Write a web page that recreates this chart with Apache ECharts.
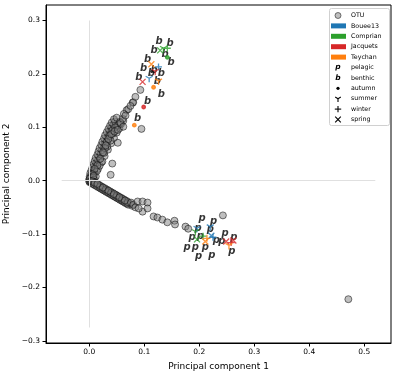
<!DOCTYPE html>
<html>
<head>
<meta charset="utf-8">
<script src="https://cdn.jsdelivr.net/npm/echarts@6/dist/echarts.min.js"></script>
<style>
  html, body { margin: 0; padding: 0; background: #fff; }
  #chart { width: 399px; height: 377px; }
</style>
</head>
<body>
<div id="chart"></div>
<script>
// tick labels
var xTicks = [0.0, 0.1, 0.2, 0.3, 0.4, 0.5];
var yTicks = [-0.3, -0.2, -0.1, 0.0, 0.1, 0.2, 0.3];

// OTU loadings
var otuPoints = [
  [0.000,0.002],[0.003,0.004],[0.001,0.008],[0.005,0.010],[0.002,0.014],[0.007,0.015],[0.004,0.019],
  [0.009,0.021],[0.006,0.025],[0.011,0.027],[0.008,0.031],[0.013,0.033],[0.010,0.037],[0.016,0.038],
  [0.012,0.043],[0.018,0.045],[0.015,0.049],[0.021,0.050],[0.017,0.055],[0.023,0.057],[0.019,0.061],
  [0.026,0.062],[0.022,0.067],[0.028,0.069],[0.024,0.073],[0.031,0.074],[0.027,0.079],[0.033,0.081],
  [0.029,0.085],[0.036,0.086],[0.032,0.091],[0.038,0.093],[0.035,0.097],[0.041,0.099],[0.038,0.103],
  [0.044,0.105],[0.041,0.109],[0.047,0.111],[0.045,0.115],[0.050,0.118],
  [0.010,0.015],[0.016,0.022],[0.022,0.034],[0.028,0.046],[0.034,0.058],[0.040,0.070],[0.045,0.080],
  [0.050,0.090],[0.055,0.098],[0.058,0.106],[0.062,0.112],
  [0.012,0.008],[0.014,0.018],[0.019,0.028],[0.024,0.036],[0.027,0.052],[0.033,0.064],[0.039,0.075],
  [0.043,0.088],[0.049,0.096],[0.053,0.104],[0.047,0.100],[0.042,0.094],[0.037,0.084],[0.032,0.072],
  [0.029,0.061],[0.025,0.053],[0.020,0.041],[0.015,0.029],[0.010,0.022],[0.006,0.012],[0.035,0.078],
  [0.040,0.087],[0.030,0.066],[0.046,0.092],[0.056,0.110],
  [0.057,0.108],[0.061,0.116],[0.062,0.101],[0.052,0.095],[0.068,0.132],[0.071,0.134],[0.079,0.146],
  [0.080,0.147],[0.084,0.157],[0.093,0.170],[0.095,0.097],[0.042,0.032],[0.039,0.011],[0.052,0.071],
  [0.063,0.125],[0.066,0.122],[0.075,0.140],
  [0.001,-0.003],[0.004,0.000],[0.002,0.001],[0.000,-0.001],[0.002,-0.002],[0.005,0.003],[0.003,0.006],
  [0.006,-0.001],[0.001,0.004],[0.004,-0.004],[0.007,0.006],[0.009,0.002],[0.008,0.009],
  [0.003,-0.001],[0.006,-0.006],[0.008,-0.002],[0.011,-0.009],[0.013,-0.005],[0.016,-0.012],[0.018,-0.008],
  [0.021,-0.015],[0.023,-0.011],[0.026,-0.018],[0.028,-0.014],[0.031,-0.021],[0.033,-0.017],[0.036,-0.024],
  [0.038,-0.020],[0.041,-0.027],[0.043,-0.023],[0.046,-0.030],[0.048,-0.026],[0.051,-0.033],[0.053,-0.029],
  [0.056,-0.036],[0.058,-0.032],[0.061,-0.039],[0.063,-0.035],[0.066,-0.042],[0.068,-0.038],[0.071,-0.045],
  [0.074,-0.043],[0.078,-0.047],
  [0.005,-0.001],[0.009,-0.007],[0.014,-0.010],[0.019,-0.013],[0.024,-0.016],[0.029,-0.019],[0.034,-0.022],
  [0.039,-0.025],[0.044,-0.028],[0.049,-0.031],[0.054,-0.034],[0.059,-0.037],[0.064,-0.040],[0.069,-0.043],
  [0.010,-0.004],[0.020,-0.010],[0.030,-0.016],[0.040,-0.022],[0.050,-0.028],[0.060,-0.034],[0.070,-0.040],
  [0.015,-0.006],[0.025,-0.013],[0.035,-0.019],[0.045,-0.025],[0.055,-0.031],[0.065,-0.037],[0.076,-0.041],
  [0.080,-0.045],
  [0.088,-0.039],[0.097,-0.039],[0.106,-0.041],[0.097,-0.058],[0.106,-0.052],[0.117,-0.067],[0.124,-0.069],
  [0.133,-0.073],[0.142,-0.078],[0.155,-0.075],[0.156,-0.082],[0.175,-0.086],[0.180,-0.090],[0.084,-0.050],
  [0.090,-0.052],[0.243,-0.065],[0.471,-0.222]
];

// sample scores: benthic (b) and pelagic (p)
var benthicPts = [
  [0.127,0.261],[0.147,0.257],[0.118,0.244],[0.138,0.237],[0.149,0.222],[0.106,0.228],[0.099,0.211],
  [0.118,0.207],[0.131,0.201],[0.090,0.194],[0.113,0.200],[0.124,0.185],[0.131,0.162],[0.106,0.149],
  [0.088,0.116]
];
var pelagicPts = [
  [0.205,-0.070],[0.226,-0.076],[0.198,-0.090],[0.220,-0.091],[0.187,-0.107],[0.202,-0.105],[0.231,-0.112],
  [0.241,-0.114],[0.247,-0.099],[0.263,-0.107],[0.178,-0.125],[0.193,-0.125],[0.211,-0.125],[0.259,-0.132],
  [0.199,-0.142],[0.223,-0.140]
];

// site / season markers: [x, y, season]
var bouee13Marks = [[0.126,0.213,'winter'],[0.109,0.190,'summer'],[0.196,-0.091,'summer'],[0.220,-0.088,'summer'],[0.225,-0.106,'winter'],[0.222,-0.103,'spring']];
var comprianMarks = [[0.129,0.244,'spring'],[0.142,0.248,'winter'],[0.135,0.246,'summer'],[0.142,0.231,'autumn'],[0.193,-0.097,'summer'],[0.207,-0.104,'winter'],[0.196,-0.110,'spring']];
var jacquetsMarks = [[0.097,0.185,'spring'],[0.120,0.203,'summer'],[0.099,0.138,'autumn'],[0.249,-0.114,'spring'],[0.258,-0.116,'winter'],[0.262,-0.112,'spring']];
var teychanMarks = [[0.113,0.218,'spring'],[0.126,0.185,'summer'],[0.117,0.175,'autumn'],[0.082,0.104,'autumn'],[0.211,-0.114,'spring'],[0.214,-0.108,'winter'],[0.254,-0.123,'summer']];

var siteNames = ['Bouee13', 'Comprian', 'Jacquets', 'Teychan'];
var siteColors = ['#1f77b4', '#2ca02c', '#d62728', '#ff7f0e'];
var siteMarks = [bouee13Marks, comprianMarks, jacquetsMarks, teychanMarks];
var seasonNames = ['autumn', 'summer', 'winter', 'spring'];

var seasonSymbol = {
  autumn: 'circle',
  summer: 'path://M0,0L0,1M0,0L-0.866,-0.5M0,0L0.866,-0.5',
  winter: 'path://M0,-1L0,1M-1,0L1,0',
  spring: 'path://M-1,-1L1,1M-1,1L1,-1'
};
var seasonSize = { autumn: 3.5, summer: 7, winter: 7, spring: 6 };

var chart = echarts.init(document.getElementById('chart'), null, { renderer: 'canvas' });

function tickFmt(v) {
  return (v < 0 ? '\u2212' : '') + Math.abs(v).toFixed(1);
}

var series = [];

// light reference lines through the origin
series.push({
  type: 'line',
  data: [],
  silent: true,
  z: 1,
  markLine: {
    silent: true,
    symbol: 'none',
    animation: false,
    label: { show: false },
    lineStyle: { color: '#e0e0e0', width: 1, type: 'solid' },
    data: [
      [{ coord: [0, -0.275] }, { coord: [0, 0.3] }],
      [{ coord: [-0.05, 0] }, { coord: [0.52, 0] }]
    ]
  }
});

series.push({
  name: 'OTU',
  type: 'scatter',
  data: otuPoints,
  symbol: 'circle',
  symbolSize: 7,
  z: 2,
  itemStyle: { color: '#808080', borderColor: '#000', borderWidth: 1, opacity: 0.5 }
});

function letterSeries(name, pts, letter) {
  return {
    name: name,
    type: 'scatter',
    data: pts,
    symbolSize: 1,
    z: 3,
    itemStyle: { color: 'rgba(0,0,0,0)' },
    label: {
      show: true,
      position: 'inside',
      formatter: letter,
      fontFamily: 'DejaVu Sans',
      fontSize: 10,
      fontWeight: 'bold',
      fontStyle: 'italic',
      color: '#000'
    }
  };
}
series.push(letterSeries('benthic', benthicPts, 'b'));
series.push(letterSeries('pelagic', pelagicPts, 'p'));

siteNames.forEach(function (name, i) {
  series.push({
    name: name,
    type: 'scatter',
    z: 4,
    symbolKeepAspect: true,
    data: siteMarks[i].map(function (m) {
      return { value: [m[0], m[1]], symbol: seasonSymbol[m[2]], symbolSize: seasonSize[m[2]] };
    }),
    itemStyle: { color: siteColors[i], borderColor: siteColors[i], borderWidth: 1.3 }
  });
});

// legend box
var legendItems = [];
var lx = 338, tx = 351, ly0 = 15.5, lstep = 10.4;
var legendFont = { fontFamily: 'DejaVu Sans', fontSize: 6.3, fill: '#000', verticalAlign: 'middle', align: 'left' };
function addLegendText(row, text) {
  legendItems.push({ type: 'text', x: tx, y: ly0 + row * lstep, style: Object.assign({ text: text }, legendFont) });
}
legendItems.push({
  type: 'rect',
  shape: { x: 329.5, y: 8.5, width: 60, height: 117, r: 2 },
  style: { fill: 'rgba(255,255,255,0.8)', stroke: '#d0d0d0', lineWidth: 1 }
});
// OTU
legendItems.push({ type: 'circle', shape: { cx: lx, cy: ly0, r: 3 }, style: { fill: 'rgba(128,128,128,0.5)', stroke: 'rgba(0,0,0,0.5)', lineWidth: 1 } });
addLegendText(0, 'OTU');
siteNames.forEach(function (name, i) {
  var y = ly0 + (i + 1) * lstep;
  legendItems.push({ type: 'rect', shape: { x: 331, y: y - 2.5, width: 15, height: 5 }, style: { fill: siteColors[i] } });
  addLegendText(i + 1, name);
});
['pelagic', 'benthic'].forEach(function (name, k) {
  var row = 5 + k;
  legendItems.push({
    type: 'text', x: lx, y: ly0 + row * lstep,
    style: { text: name.charAt(0), fontFamily: 'DejaVu Sans', fontSize: 7.5, fontWeight: 'bold', fontStyle: 'italic', fill: '#000', align: 'center', verticalAlign: 'middle' }
  });
  addLegendText(row, name);
});
seasonNames.forEach(function (name, k) {
  var row = 7 + k;
  var cy = ly0 + row * lstep;
  var st = { stroke: '#000', lineWidth: 1.1 };
  if (name === 'autumn') {
    legendItems.push({ type: 'circle', shape: { cx: lx, cy: cy, r: 1.6 }, style: { fill: '#000' } });
  } else if (name === 'summer') {
    legendItems.push({ type: 'line', shape: { x1: lx, y1: cy, x2: lx, y2: cy + 3.2 }, style: st });
    legendItems.push({ type: 'line', shape: { x1: lx, y1: cy, x2: lx - 2.8, y2: cy - 1.6 }, style: st });
    legendItems.push({ type: 'line', shape: { x1: lx, y1: cy, x2: lx + 2.8, y2: cy - 1.6 }, style: st });
  } else if (name === 'winter') {
    legendItems.push({ type: 'line', shape: { x1: lx - 3.2, y1: cy, x2: lx + 3.2, y2: cy }, style: st });
    legendItems.push({ type: 'line', shape: { x1: lx, y1: cy - 3.2, x2: lx, y2: cy + 3.2 }, style: st });
  } else {
    legendItems.push({ type: 'line', shape: { x1: lx - 2.8, y1: cy - 2.8, x2: lx + 2.8, y2: cy + 2.8 }, style: st });
    legendItems.push({ type: 'line', shape: { x1: lx - 2.8, y1: cy + 2.8, x2: lx + 2.8, y2: cy - 2.8 }, style: st });
  }
  addLegendText(row, name);
});

chart.setOption({
  animation: false,
  backgroundColor: '#fff',
  textStyle: { fontFamily: 'DejaVu Sans' },
  grid: {
    left: 46, top: 5, width: 345, height: 338,
    outerBoundsMode: 'none', containLabel: false,
    show: true, borderColor: '#000', borderWidth: 1, backgroundColor: 'transparent'
  },
  xAxis: {
    type: 'value',
    min: -0.0785,
    max: 0.5485,
    name: 'Principal component 1',
    nameLocation: 'middle',
    nameGap: 19,
    nameTextStyle: { fontFamily: 'DejaVu Sans', fontSize: 9, color: '#000' },
    axisLine: { show: true, onZero: false, lineStyle: { color: '#000', width: 1 } },
    axisTick: { show: true, length: 3.5, lineStyle: { color: '#000' }, customValues: xTicks },
    axisLabel: { fontFamily: 'DejaVu Sans', fontSize: 7.5, color: '#000', margin: 5, customValues: xTicks, formatter: tickFmt },
    splitLine: { show: false }
  },
  yAxis: {
    type: 'value',
    min: -0.304,
    max: 0.329,
    name: 'Principal component 2',
    nameLocation: 'middle',
    nameGap: 32,
    nameTextStyle: { fontFamily: 'DejaVu Sans', fontSize: 9, color: '#000' },
    axisLine: { show: true, onZero: false, lineStyle: { color: '#000', width: 1 } },
    axisTick: { show: true, length: 3.5, lineStyle: { color: '#000' }, customValues: yTicks },
    axisLabel: { fontFamily: 'DejaVu Sans', fontSize: 7.5, color: '#000', margin: 6, customValues: yTicks, formatter: tickFmt },
    splitLine: { show: false }
  },
  graphic: { elements: legendItems },
  series: series
});
</script>
</body>
</html>
